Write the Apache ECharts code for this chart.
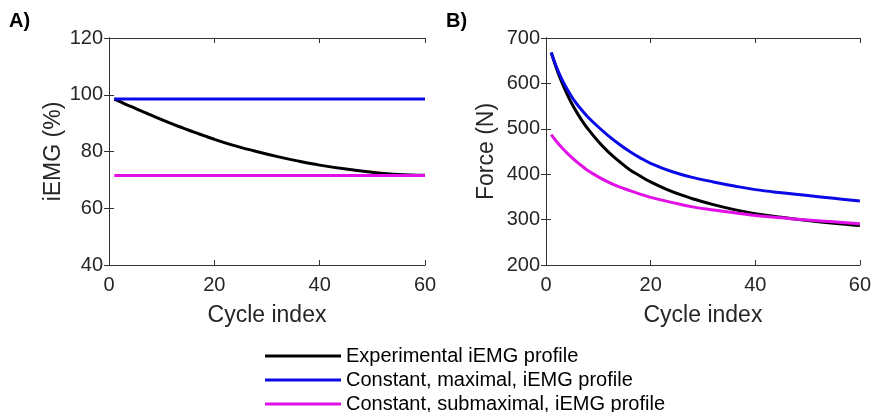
<!DOCTYPE html>
<html>
<head>
<meta charset="utf-8">
<title>iEMG profiles and force</title>
<script src="https://cdn.jsdelivr.net/npm/echarts@6/dist/echarts.min.js"></script>
<style>
    html, body { margin: 0; padding: 0; background: #ffffff; }
    #chart { width: 874px; height: 412px; }
</style>
</head>
<body>
<div id="chart"></div>
<script>
    // data
    var cycles = [1, 2, 3, 4, 5, 6, 7, 8, 10, 12, 14, 16, 18, 20, 24, 28, 32, 36, 40, 45, 50, 55, 60];
    var cycleEnds = [1, 60];

    // A) iEMG (%)
    var expA = [98.5, 97.7, 96.8, 96.0, 95.2, 94.4, 93.6, 92.8, 91.2, 89.7, 88.3, 86.9, 85.6, 84.3, 82.0, 80.0, 78.2, 76.6, 75.2, 73.8, 72.7, 71.9, 71.6];
    var maxA = [98.5, 98.5];
    var subA = [71.5, 71.5];

    // B) Force (N)
    var expB = [668, 633, 603, 577, 554, 534, 516, 500, 472, 448, 428, 410, 396, 383, 362, 346, 333, 322, 313, 305, 298, 292, 287];
    var maxB = [668, 636, 610, 588, 569, 553, 539, 526, 504, 484, 466, 450, 436, 424, 406, 393, 383, 374, 366, 359, 353, 347, 341];
    var subB = [487, 472, 459, 447, 436, 426, 417, 408, 394, 382, 372, 364, 356, 349, 338, 328, 321, 315, 309, 304, 299, 295, 291];

    var names = ['Experimental iEMG profile', 'Constant, maximal, iEMG profile', 'Constant, submaximal, iEMG profile'];
    var colors = ['#000000', '#0a0ae6', '#e010e6'];

    var FONT = '"Liberation Sans", Arial, Helvetica, sans-serif';
    var AXC = '#333333';

    function pairs(xs, ys) {
        return xs.map(function (x, i) { return [x, ys[i]]; });
    }

    function line(name, idx, xs, ys, color) {
        return {
            name: name,
            type: 'line',
            xAxisIndex: idx * 2,
            yAxisIndex: idx * 2,
            data: pairs(xs, ys),
            smooth: 0.4,
            showSymbol: false,
            lineStyle: { color: color, width: 3 },
            itemStyle: { color: color },
            z: 3
        };
    }

    // bottom + top x axes, left + right y axes for a boxed frame
    function xAxes(gi) {
        var base = {
            type: 'value', gridIndex: gi, min: 0, max: 60, interval: 20,
            axisLine: { show: true, lineStyle: { color: AXC, width: 1 } },
            axisTick: { show: true, inside: true, length: 5, lineStyle: { color: AXC } },
            splitLine: { show: false }
        };
        return [
            Object.assign({}, base, {
                position: 'bottom',
                name: 'Cycle index', nameLocation: 'middle', nameGap: 39,
                nameTextStyle: { fontFamily: FONT, fontSize: 23, color: '#262626' },
                axisLabel: { fontFamily: FONT, fontSize: 20, color: '#262626', margin: 10 }
            }),
            Object.assign({}, base, { position: 'top', axisLabel: { show: false } })
        ];
    }

    function yAxes(gi, min, max, interval, title, gap) {
        var base = {
            type: 'value', gridIndex: gi, min: min, max: max, interval: interval,
            axisLine: { show: true, lineStyle: { color: AXC, width: 1 } },
            axisTick: { show: true, inside: true, length: 5, lineStyle: { color: AXC } },
            splitLine: { show: false }
        };
        return [
            Object.assign({}, base, {
                position: 'left',
                name: title, nameLocation: 'middle', nameGap: gap,
                nameTextStyle: { fontFamily: FONT, fontSize: 23, color: '#262626' },
                axisLabel: { fontFamily: FONT, fontSize: 20, color: '#262626', margin: 6 }
            }),
            Object.assign({}, base, { position: 'right', axisLabel: { show: false } })
        ];
    }

    // one legend block per row so they stack in a single column
    function legendRow(i, top) {
        return {
            orient: 'vertical',
            left: 265,
            top: top,
            padding: 0,
            itemWidth: 76,
            itemHeight: 3,
            icon: 'rect',
            data: [names[i]],
            textStyle: { fontFamily: FONT, fontSize: 20, color: '#000' }
        };
    }

    var chart = echarts.init(document.getElementById('chart'), null, { renderer: 'canvas' });

    var option = {
        backgroundColor: '#ffffff',
        animation: false,
        title: [
            { text: 'A)', left: 9, top: 11, padding: 0,
              textStyle: { fontFamily: FONT, fontSize: 20, fontWeight: 'bold', color: '#000' } },
            { text: 'B)', left: 446, top: 11, padding: 0,
              textStyle: { fontFamily: FONT, fontSize: 20, fontWeight: 'bold', color: '#000' } }
        ],
        grid: [
            { left: 109, top: 38, width: 316, height: 227 },
            { left: 546, top: 38, width: 316, height: 227 }
        ],
        legend: [legendRow(0, 346), legendRow(1, 370), legendRow(2, 394)],
        xAxis: xAxes(0).concat(xAxes(1)),
        yAxis: yAxes(0, 40, 120, 20, 'iEMG (%)', 44).concat(yAxes(1, 200, 700, 100, 'Force (N)', 48)),
        series: [
            line(names[0], 0, cycles, expA, colors[0]),
            line(names[1], 0, cycleEnds, maxA, colors[1]),
            line(names[2], 0, cycleEnds, subA, colors[2]),
            line(names[0], 1, cycles, expB, colors[0]),
            line(names[1], 1, cycles, maxB, colors[1]),
            line(names[2], 1, cycles, subB, colors[2])
        ]
    };
    chart.setOption(option);
</script>
</body>
</html>
